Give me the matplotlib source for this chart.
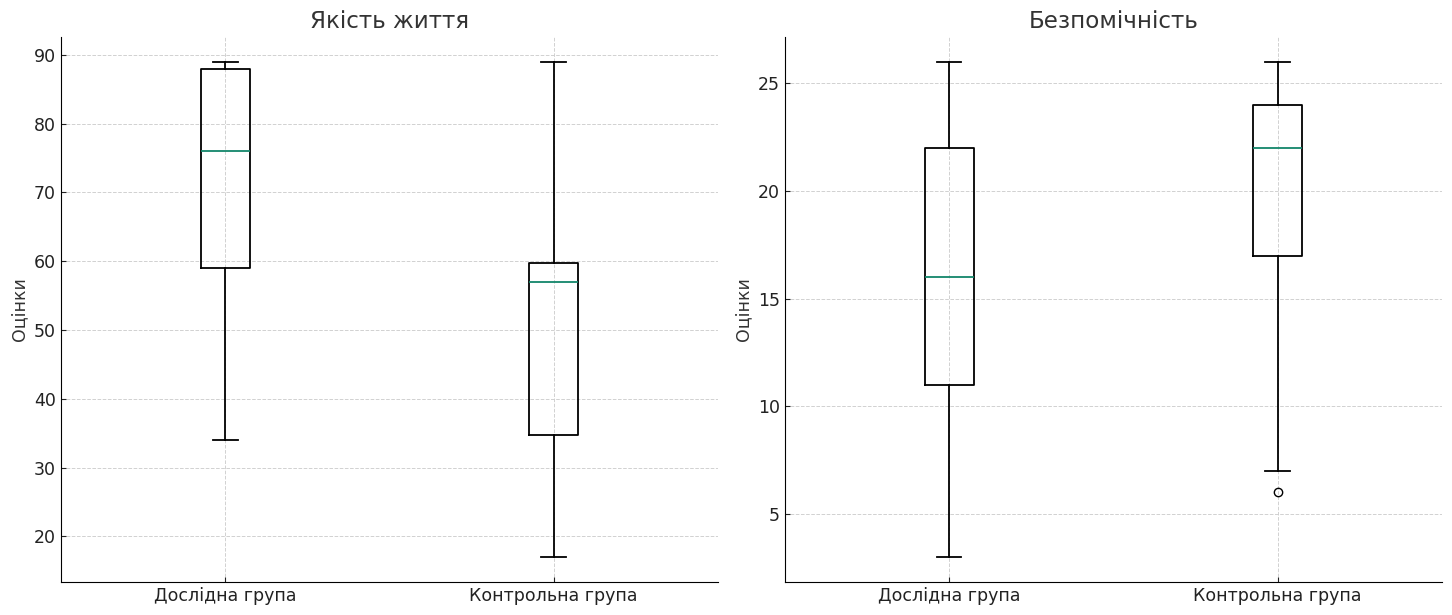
import matplotlib
matplotlib.use('Agg')
import matplotlib.pyplot as plt

# Group labels
groups = ['Дослідна група', 'Контрольна група']

# Якість життя - box statistics per group
qol_whislo = [34, 17]
qol_q1 = [59, 34.8]
qol_med = [76, 57]
qol_q3 = [88, 59.7]
qol_whishi = [89, 89]
qol_fliers = [[], []]

# Безпомічність - box statistics per group
help_whislo = [3, 7]
help_q1 = [11, 17]
help_med = [16, 22]
help_q3 = [22, 24]
help_whishi = [26, 26]
help_fliers = [[], [6]]

MEDIAN_COLOR = '#13866a'
TEXT_COLOR = '#333333'


def make_stats(whislo, q1, med, q3, whishi, fliers):
    stats = []
    for i in range(len(groups)):
        stats.append(dict(label=groups[i], whislo=whislo[i], q1=q1[i], med=med[i],
                          q3=q3[i], whishi=whishi[i], fliers=fliers[i]))
    return stats


def draw_panel(ax, stats, title):
    ax.bxp(stats, widths=0.15, showfliers=True,
           boxprops=dict(color='black', linewidth=1.3),
           whiskerprops=dict(color='black', linewidth=1.3),
           capprops=dict(color='black', linewidth=1.3),
           medianprops=dict(color=MEDIAN_COLOR, linewidth=1.3),
           flierprops=dict(marker='o', markerfacecolor='none',
                           markeredgecolor='black', markersize=6))
    ax.set_title(title, fontsize=16.6, color=TEXT_COLOR, pad=6.5)
    ax.set_ylabel('Оцінки', fontsize=12.5, color=TEXT_COLOR, labelpad=4)
    ax.grid(True, linestyle='--', color='#cccccc', linewidth=0.7, alpha=0.9)
    ax.set_axisbelow(True)
    ax.spines['top'].set_visible(False)
    ax.spines['right'].set_visible(False)
    ax.tick_params(labelsize=12.5, colors='#222222', direction='in', length=3.5)


fig, (ax1, ax2) = plt.subplots(1, 2, figsize=(14.52, 6.15), dpi=100)

draw_panel(ax1, make_stats(qol_whislo, qol_q1, qol_med, qol_q3, qol_whishi, qol_fliers),
           'Якість життя')
draw_panel(ax2, make_stats(help_whislo, help_q1, help_med, help_q3, help_whishi, help_fliers),
           'Безпомічність')

fig.subplots_adjust(left=0.042, right=0.993, top=0.94, bottom=0.054, wspace=0.102)
fig.savefig('out.png', dpi=100, facecolor='white')
plt.close(fig)
